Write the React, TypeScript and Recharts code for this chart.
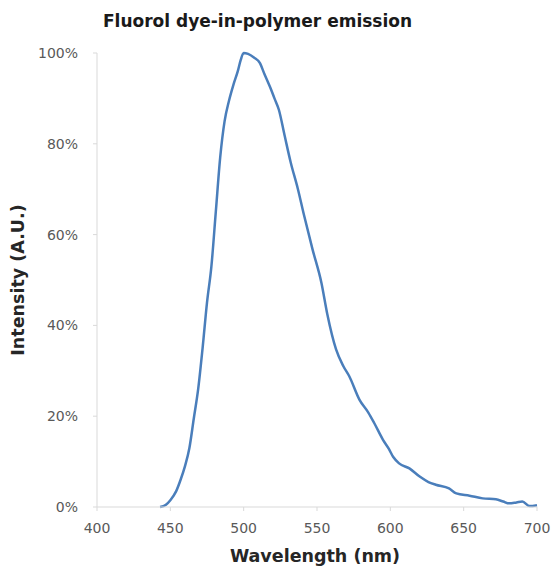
import React from "react";
import { LineChart, Line, XAxis, YAxis, Customized } from "recharts";

const wavelengths = [443, 447, 450, 454, 457, 460, 463, 466, 469, 472, 475, 478, 481, 484, 487, 490, 493, 496, 498, 500, 503, 507, 511, 514, 518, 521, 524, 528, 532, 537, 541, 547, 553, 557, 563, 568, 572, 579, 585, 589, 595, 599, 602, 606, 613, 620, 626, 631, 640, 645, 654, 663, 672, 677, 681, 686, 690, 695, 700];
const intensity = [0, 0.5, 1.5, 3.5, 6, 9, 13, 19.5, 26, 35, 45, 53, 65, 77, 85, 89.5, 93, 96, 98.5, 100, 99.8, 99, 97.8, 95.5, 92.5, 90, 87.5, 81.7, 76, 70, 64.5, 56.7, 49.4, 42.5, 34.7, 31, 28.8, 23.6, 20.8, 18.5, 14.8, 12.8, 11, 9.6, 8.5, 6.7, 5.5, 4.9, 4.1, 3, 2.5, 1.9, 1.7, 1.2, 0.8, 1, 1.2, 0.2, 0.4];
const xTicks = [400, 450, 500, 550, 600, 650, 700];
const yTicks = [0, 20, 40, 60, 80, 100];

const title = "Fluorol dye-in-polymer emission";
const xTitle = "Wavelength (nm)";
const yTitle = "Intensity (A.U.)";

const data = wavelengths.map((w, i) => ({ w, v: intensity[i] }));

const FONT = "'DejaVu Sans', 'Liberation Sans', Arial, sans-serif";
const tickStyle = { fontSize: 14, fill: "#595959", fontFamily: FONT };

export default function App() {
  return (
    <div style={{ position: "absolute", left: 0, top: 0, width: 555, height: 575, background: "#fff" }}>
      <LineChart width={555} height={575} data={data} margin={{ top: 53, right: 18, bottom: 28, left: 27 }}>
        <XAxis
          dataKey="w"
          type="number"
          domain={[400, 700]}
          ticks={xTicks}
          interval={0}
          height={40}
          tickSize={4}
          tickMargin={12}
          stroke="#d9d9d9"
          tick={tickStyle}
          label={{
            content: (props: any) => {
              const vb = props.viewBox || {};
              return (
                <text x={vb.x + vb.width / 2 - 2} y={562} textAnchor="middle" fontFamily={FONT} fontWeight="bold" fontSize={17.5} fill="#262626">
                  {xTitle}
                </text>
              );
            },
          }}
        />
        <YAxis
          type="number"
          domain={[0, 100]}
          ticks={yTicks}
          interval={0}
          width={70}
          tickSize={4}
          tickMargin={15}
          stroke="#d9d9d9"
          tick={tickStyle}
          tickFormatter={(v: number) => `${v}%`}
          label={{
            content: (props: any) => {
              const vb = props.viewBox || {};
              const cy = vb.y + vb.height / 2;
              return (
                <text x={24} y={cy} transform={`rotate(-90 24 ${cy})`} textAnchor="middle" fontFamily={FONT} fontWeight="bold" fontSize={17.5} fill="#262626">
                  {yTitle}
                </text>
              );
            },
          }}
        />
        <Line type="monotone" dataKey="v" stroke="#4a7ebb" strokeWidth={2.5} dot={false} isAnimationActive={false} />
        <Customized
          component={() => (
            <text x={103} y={27} fontFamily={FONT} fontWeight="bold" fontSize={17} fill="#1a1a1a">
              {title}
            </text>
          )}
        />
      </LineChart>
    </div>
  );
}
